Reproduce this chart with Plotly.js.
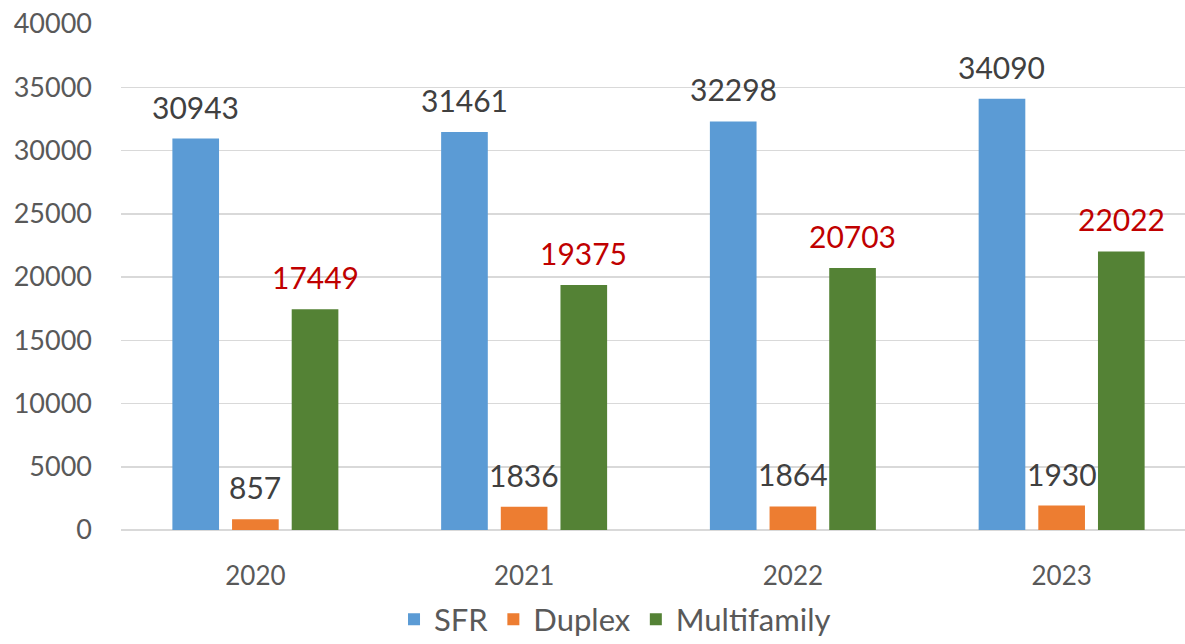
<!DOCTYPE html>
<html>
<head>
<meta charset="utf-8">
<script src="https://cdn.plot.ly/plotly-3.0.1.min.js"></script>
<style>html,body{margin:0;padding:0;background:#fff;}#chart{width:1185px;height:644px;}</style>
</head>
<body>
<div id="chart"></div>
<script>
const years = ["2020", "2021", "2022", "2023"];
const sfr = [30943, 31461, 32298, 34090];
const duplex = [857, 1836, 1864, 1930];
const multifamily = [17449, 19375, 20703, 22022];
const seriesNames = ["SFR", "Duplex", "Multifamily"];
const yTicks = [0, 5000, 10000, 15000, 20000, 25000, 30000, 35000, 40000];

const colors = ["#5B9BD5", "#ED7D31", "#548235"];
const labelColors = ["#404040", "#404040", "#C00000"];
const allSeries = [sfr, duplex, multifamily];
const FONT = "Lato, 'Open Sans', sans-serif";

const traces = allSeries.map((vals, i) => ({
  type: "bar",
  name: seriesNames[i],
  x: years,
  y: vals,
  marker: {color: colors[i]},
  hoverinfo: "x+y+name"
}));

// data labels: offset within the group by series index
const annotations = [];
const nS = allSeries.length;
const groupWidth = 1 - 0.334;
const slot = groupWidth / nS;
allSeries.forEach((vals, i) => {
  vals.forEach((v, j) => {
    annotations.push({
      x: j - groupWidth / 2 + slot * (i + 0.5),
      y: v,
      xref: "x", yref: "y",
      text: String(v),
      showarrow: false,
      yanchor: "bottom",
      yshift: 12,
      font: {family: FONT, size: 30, color: labelColors[i]}
    });
  });
});

const layout = {
  width: 1185, height: 644,
  margin: {l: 121, r: 0, t: 24, b: 114},
  paper_bgcolor: "#ffffff",
  plot_bgcolor: "#ffffff",
  barmode: "group",
  bargap: 0.334,
  bargroupgap: 0.218,
  showlegend: true,
  legend: {
    orientation: "h",
    xref: "container", yref: "container",
    x: 0.519, xanchor: "center",
    y: 0.038, yanchor: "middle",
    font: {family: FONT, size: 31, color: "#595959"},
    itemwidth: 30,
    traceorder: "normal"
  },
  xaxis: {
    type: "category",
    range: [-0.5, 3.459],
    showgrid: false,
    zeroline: false,
    showline: false,
    ticks: "",
    ticklabelstandoff: 28,
    tickfont: {family: FONT, size: 26, color: "#595959"},
    fixedrange: true
  },
  yaxis: {
    range: [0, 40000],
    tickvals: yTicks,
    ticktext: yTicks.map(String),
    showgrid: true,
    gridcolor: "#D9D9D9",
    gridwidth: 1.5,
    zeroline: true,
    zerolinecolor: "#D9D9D9",
    zerolinewidth: 1.5,
    showline: false,
    ticks: "",
    ticklabelstandoff: 28,
    tickfont: {family: FONT, size: 27, color: "#595959"},
    fixedrange: true
  },
  annotations: annotations
};

Plotly.newPlot("chart", traces, layout, {displayModeBar: false, staticPlot: true});
</script>
</body>
</html>
